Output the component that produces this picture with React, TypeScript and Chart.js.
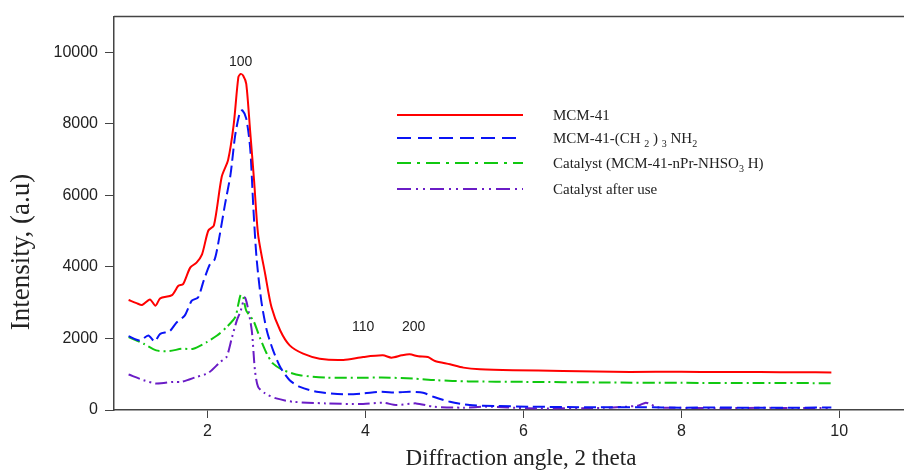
import React, { useEffect, useRef } from "react";
import { Chart, registerables } from "chart.js";

Chart.register(...registerables);

// ---- Data ----
const mcmX = [1.0, 1.1, 1.17, 1.27, 1.34, 1.4, 1.55, 1.63, 1.69, 1.78, 1.86, 1.93, 2.01, 2.08, 2.18, 2.26, 2.33, 2.39, 2.42, 2.45, 2.49, 2.54, 2.59, 2.64, 2.73, 2.81, 2.92, 3.04, 3.21, 3.42, 3.72, 3.97, 4.22, 4.33, 4.46, 4.56, 4.67, 4.79, 4.88, 5.07, 5.24, 5.45, 5.87, 6.5, 7.35, 8.0, 8.5, 9.0, 9.5, 9.9];
const mcmY = [3075, 2990, 2936, 3092, 2917, 3120, 3213, 3472, 3519, 3981, 4120, 4352, 5019, 5157, 6528, 6991, 7963, 9306, 9398, 9350, 9120, 7778, 6389, 4907, 3796, 2870, 2222, 1806, 1574, 1435, 1400, 1481, 1528, 1463, 1528, 1556, 1500, 1481, 1370, 1278, 1185, 1139, 1111, 1093, 1065, 1070, 1060, 1060, 1055, 1050];

const aminoX = [1.0, 1.14, 1.25, 1.33, 1.4, 1.52, 1.61, 1.71, 1.8, 1.88, 1.95, 2.03, 2.09, 2.14, 2.22, 2.29, 2.35, 2.41, 2.44, 2.49, 2.54, 2.58, 2.62, 2.68, 2.75, 2.83, 2.92, 3.04, 3.17, 3.38, 3.72, 3.97, 4.18, 4.39, 4.56, 4.73, 4.86, 5.07, 5.32, 5.66, 6.08, 6.93, 7.5, 8.0, 8.5, 9.0, 9.5, 9.9];
const aminoY = [2065, 1944, 2083, 1917, 2130, 2204, 2454, 2639, 3056, 3148, 3611, 4074, 4213, 4722, 5741, 6574, 7685, 8333, 8380, 8148, 7315, 5648, 4259, 3056, 2222, 1667, 1204, 833, 648, 509, 440, 463, 509, 491, 509, 481, 370, 231, 139, 111, 93, 74, 80, 65, 70, 60, 65, 70];

const catX = [1.0, 1.19, 1.35, 1.52, 1.67, 1.82, 1.99, 2.12, 2.24, 2.35, 2.39, 2.42, 2.45, 2.49, 2.58, 2.66, 2.75, 2.83, 2.96, 3.17, 3.5, 3.93, 4.2, 4.6, 4.9, 5.3, 6.0, 7.0, 8.0, 9.0, 9.9];
const catY = [2037, 1852, 1667, 1648, 1713, 1713, 1898, 2083, 2315, 2593, 2963, 3222, 3167, 2778, 2500, 2037, 1574, 1296, 1111, 972, 907, 900, 907, 880, 833, 800, 787, 770, 759, 755, 750];

const usedX = [1.0, 1.19, 1.35, 1.57, 1.67, 1.86, 2.01, 2.16, 2.24, 2.31, 2.37, 2.42, 2.47, 2.5, 2.56, 2.6, 2.64, 2.73, 2.87, 3.08, 3.5, 3.97, 4.22, 4.39, 4.64, 4.86, 5.24, 5.53, 6.08, 7.0, 7.45, 7.55, 7.62, 7.7, 8.0, 8.5, 9.0, 9.5, 9.9];
const usedY = [991, 833, 741, 787, 787, 926, 1037, 1343, 1481, 2037, 2500, 2778, 3148, 2963, 2222, 1111, 648, 463, 324, 231, 185, 167, 204, 139, 185, 93, 65, 93, 46, 60, 120, 204, 150, 74, 60, 50, 60, 55, 60];

const xTicks = [2, 4, 6, 8, 10];
const yTicks = [0, 2000, 4000, 6000, 8000, 10000];

const peakLabels = ["100", "110", "200"];
const peakAngles = [2.42, 3.97, 4.61];
const peakHeights = [9720, 2330, 2330];

const seriesNames = [
  [{ t: "MCM-41", s: false }],
  [
    { t: "MCM-41-(CH ", s: false },
    { t: "2", s: true },
    { t: " ) ", s: false },
    { t: "3", s: true },
    { t: " NH", s: false },
    { t: "2", s: true },
  ],
  [
    { t: "Catalyst (MCM-41-nPr-NHSO", s: false },
    { t: "3", s: true },
    { t: " H)", s: false },
  ],
  [{ t: "Catalyst after use", s: false }],
];

const colors = ["#ff0000", "#0a14f5", "#10c810", "#6a1cc6"];
const dashes: number[][] = [[], [12, 5], [12, 4, 2, 4], [12, 4, 2, 4, 2, 4]];
const legendDashes: number[][] = [[], [14, 7], [14, 6, 3, 6], [14, 5, 2, 5, 2, 5]];
const legendRowsY = [115, 138, 163, 189];

const pts = (xs: number[], ys: number[]) => xs.map((x, i) => ({ x, y: ys[i] }));

const AXIS = "#444444";

const overlay = {
  id: "overlay",
  afterDraw(chart: any) {
    const { ctx, chartArea, scales } = chart;
    ctx.save();
    // top frame line
    ctx.strokeStyle = AXIS;
    ctx.lineWidth = 1.5;
    ctx.beginPath();
    ctx.moveTo(chartArea.left, chartArea.top);
    ctx.lineTo(chartArea.right, chartArea.top);
    ctx.stroke();

    // peak labels
    ctx.fillStyle = "#222";
    ctx.font = "14px 'Liberation Sans', Arial, sans-serif";
    ctx.textAlign = "center";
    ctx.textBaseline = "middle";
    peakLabels.forEach((lab, i) => {
      ctx.fillText(lab, scales.x.getPixelForValue(peakAngles[i]), scales.y.getPixelForValue(peakHeights[i]));
    });

    // legend
    const lx0 = 397;
    const lx1 = 523;
    const tx = 553;
    seriesNames.forEach((parts, i) => {
      const y = legendRowsY[i];
      ctx.strokeStyle = colors[i];
      ctx.lineWidth = 2;
      ctx.setLineDash(legendDashes[i]);
      ctx.beginPath();
      ctx.moveTo(lx0, y);
      ctx.lineTo(lx1, y);
      ctx.stroke();
      ctx.setLineDash([]);
      let x = tx;
      ctx.textAlign = "left";
      ctx.textBaseline = "alphabetic";
      ctx.fillStyle = "#222";
      parts.forEach((p) => {
        ctx.font = p.s ? "10px 'Liberation Serif', 'Times New Roman', serif" : "15px 'Liberation Serif', 'Times New Roman', serif";
        const by = p.s ? y + 9 : y + 5;
        ctx.fillText(p.t, x, by);
        x += ctx.measureText(p.t).width;
      });
    });

    // axis titles
    ctx.fillStyle = "#222";
    ctx.font = "23px 'Liberation Serif', 'Times New Roman', serif";
    ctx.textAlign = "center";
    ctx.textBaseline = "middle";
    ctx.fillText("Diffraction angle, 2 theta", 521, 459);
    ctx.save();
    ctx.translate(22, 252);
    ctx.rotate(-Math.PI / 2);
    ctx.font = "27px 'Liberation Serif', 'Times New Roman', serif";
    ctx.fillText("Intensity, (a.u)", 0, 0);
    ctx.restore();
    ctx.restore();
  },
};

export default function App() {
  const ref = useRef<HTMLCanvasElement>(null);
  useEffect(() => {
    if (!ref.current) return;
    const mk = (label: string, xs: number[], ys: number[], i: number) => ({
      label,
      data: pts(xs, ys),
      borderColor: colors[i],
      backgroundColor: colors[i],
      borderWidth: 2,
      borderDash: dashes[i],
      pointRadius: 0,
      tension: 0.25,
      fill: false,
    });
    const chart = new Chart(ref.current, {
      type: "line",
      data: {
        datasets: [
          mk("MCM-41", mcmX, mcmY, 0),
          mk("MCM-41-(CH2)3NH2", aminoX, aminoY, 1),
          mk("Catalyst (MCM-41-nPr-NHSO3H)", catX, catY, 2),
          mk("Catalyst after use", usedX, usedY, 3),
        ],
      },
      options: {
        animation: false,
        responsive: false,
        events: [],
        layout: { padding: { top: 14, left: 0, right: 0, bottom: 0 } },
        plugins: { legend: { display: false }, tooltip: { enabled: false } },
        scales: {
          x: {
            type: "linear",
            min: 0.815,
            max: 10.82,
            afterBuildTicks: (s: any) => {
              s.ticks = xTicks.map((v) => ({ value: v }));
            },
            afterFit: (s: any) => {
              s.height = 60;
            },
            grid: { drawOnChartArea: false, drawTicks: true, tickLength: 8, color: AXIS, lineWidth: 1 },
            border: { display: true, color: AXIS, width: 1.5 },
            ticks: {
              padding: 4,
              color: "#222",
              font: { family: "'Liberation Sans', Arial, sans-serif", size: 16 },
            },
          },
          y: {
            type: "linear",
            min: 0,
            max: 11000,
            afterBuildTicks: (s: any) => {
              s.ticks = yTicks.map((v) => ({ value: v }));
            },
            afterFit: (s: any) => {
              s.width = 114;
            },
            grid: { drawOnChartArea: false, drawTicks: true, tickLength: 9, color: AXIS, lineWidth: 1 },
            border: { display: true, color: AXIS, width: 1.5 },
            ticks: {
              padding: 7,
              color: "#222",
              font: { family: "'Liberation Sans', Arial, sans-serif", size: 16 },
              callback: (v: any) => String(v),
            },
          },
        },
      },
      plugins: [overlay],
    });
    return () => chart.destroy();
  }, []);
  return (
    <div style={{ position: "fixed", left: 0, top: 0, width: 904, height: 470, background: "#fff" }}>
      <canvas ref={ref} width={904} height={470} style={{ display: "block" }} />
    </div>
  );
}
